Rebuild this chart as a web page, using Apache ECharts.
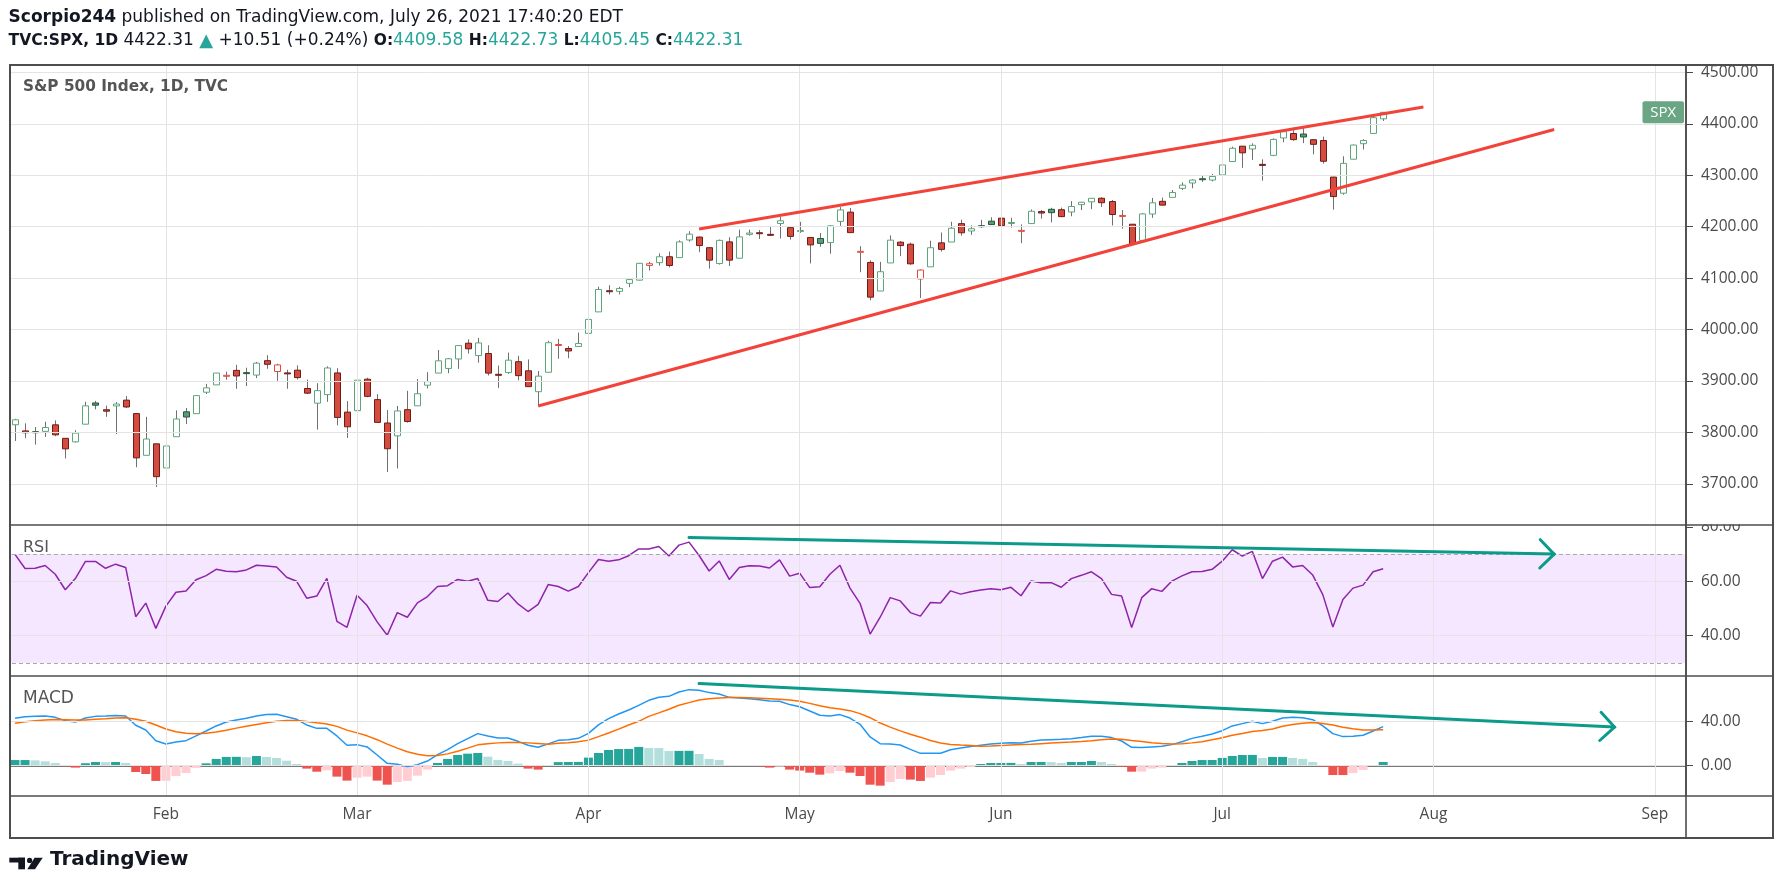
<!DOCTYPE html>
<html><head><meta charset="utf-8">
<script src="https://cdn.jsdelivr.net/npm/echarts@6/dist/echarts.min.js"></script>
<style>html,body{margin:0;padding:0;background:#fff;}#c{width:1783px;height:894px;}</style>
</head><body><div id="c"></div>
<script>
// ---------- DATA ----------
const dates = [
'01-08','01-11','01-12','01-13','01-14','01-15','01-19','01-20','01-21','01-22','01-25','01-26','01-27','01-28','01-29',
'02-01','02-02','02-03','02-04','02-05','02-08','02-09','02-10','02-11','02-12','02-16','02-17','02-18','02-19','02-22','02-23','02-24','02-25','02-26',
'03-01','03-02','03-03','03-04','03-05','03-08','03-09','03-10','03-11','03-12','03-15','03-16','03-17','03-18','03-19','03-22','03-23','03-24','03-25','03-26','03-29','03-30','03-31',
'04-01','04-05','04-06','04-07','04-08','04-09','04-12','04-13','04-14','04-15','04-16','04-19','04-20','04-21','04-22','04-23','04-26','04-27','04-28','04-29','04-30',
'05-03','05-04','05-05','05-06','05-07','05-10','05-11','05-12','05-13','05-14','05-17','05-18','05-19','05-20','05-21','05-24','05-25','05-26','05-27','05-28',
'06-01','06-02','06-03','06-04','06-07','06-08','06-09','06-10','06-11','06-14','06-15','06-16','06-17','06-18','06-21','06-22','06-23','06-24','06-25','06-28','06-29','06-30',
'07-01','07-02','07-06','07-07','07-08','07-09','07-12','07-13','07-14','07-15','07-16','07-19','07-20','07-21','07-22','07-23','07-26','07-27','07-28','07-29','07-30',
'08-02','08-03','08-04','08-05','08-06','08-09','08-10','08-11','08-12','08-13','08-16','08-17','08-18','08-19','08-20','08-23','08-24','08-25','08-26','08-27','08-30','08-31',
'09-01','09-02','09-03'];
const padBefore = ['01-07'];
const padAfter = ['09-07'];

const open = [
3815.05,3803.14,3801.62,3802.23,3814.98,3788.73,3781.88,3816.22,3857.46,3844.24,3851.68,3862.96,3836.83,3755.75,3778.05,
3731.17,3791.84,3840.27,3836.66,3878.30,3892.59,3910.49,3920.78,3916.40,3911.65,3939.61,3918.50,3915.86,3921.16,3885.55,3857.07,3873.71,3915.80,3839.66,
3842.51,3903.64,3863.99,3818.53,3793.58,3844.39,3851.93,3891.99,3915.54,3924.52,3942.96,3973.59,3949.57,3953.50,3913.14,3916.48,3937.60,3919.93,3879.34,3917.12,3969.31,3963.34,3967.25,
3992.78,4034.44,4075.57,4074.29,4089.95,4096.11,4124.71,4130.10,4141.58,4139.76,4174.14,4179.80,4159.18,4128.42,4170.46,4138.78,4185.03,4188.25,4185.14,4206.14,4198.10,
4191.98,4179.04,4177.06,4169.14,4210.34,4228.29,4150.34,4130.55,4074.99,4129.58,4169.92,4165.94,4098.45,4121.97,4168.61,4170.16,4205.94,4191.59,4201.94,4210.77,
4216.52,4206.82,4191.43,4206.05,4229.34,4233.81,4232.99,4228.56,4242.90,4248.31,4255.28,4248.87,4220.37,4204.78,4173.40,4224.61,4249.27,4256.97,4274.45,4284.90,4293.21,4290.65,
4300.73,4326.60,4356.46,4351.01,4321.07,4338.60,4372.41,4381.07,4380.11,4369.02,4367.43,4296.40,4265.11,4331.13,4361.27,4381.20,4409.58];

const high = [
3826.69,3817.86,3810.78,3820.96,3823.60,3788.73,3804.53,3859.75,3861.45,3852.31,3859.23,3870.90,3836.83,3830.50,3778.05,
3784.32,3843.09,3847.51,3872.42,3894.56,3915.77,3918.35,3931.50,3925.99,3937.23,3950.43,3933.61,3921.98,3930.41,3902.92,3895.98,3928.65,3925.02,3861.08,
3914.50,3906.41,3874.47,3843.67,3851.69,3881.06,3903.76,3917.35,3960.27,3944.99,3970.08,3981.04,3983.87,3969.62,3930.12,3955.31,3949.13,3942.08,3919.54,3978.19,3981.83,3968.01,3994.41,
4020.63,4083.42,4086.23,4083.13,4098.19,4129.48,4131.76,4148.00,4151.69,4173.49,4191.31,4180.81,4159.18,4175.02,4179.57,4194.17,4194.19,4193.35,4201.53,4218.78,4198.10,
4209.39,4179.04,4187.72,4202.70,4238.04,4236.39,4162.04,4134.73,4131.58,4183.13,4171.92,4169.15,4116.93,4172.80,4188.72,4209.52,4213.42,4202.61,4213.38,4218.36,
4234.12,4217.37,4204.39,4233.45,4232.34,4236.74,4237.09,4249.74,4248.38,4255.59,4257.16,4251.89,4232.29,4204.78,4226.24,4255.84,4256.60,4271.28,4286.12,4292.14,4300.52,4302.43,
4320.66,4355.43,4356.46,4361.88,4330.88,4371.60,4386.68,4392.37,4393.68,4369.02,4375.09,4296.40,4336.84,4359.70,4369.87,4415.18,4422.73];

const low = [
3783.60,3789.02,3776.51,3791.50,3792.86,3749.62,3780.37,3816.22,3845.05,3830.41,3797.16,3847.78,3732.48,3755.75,3694.12,
3725.62,3791.84,3816.68,3836.66,3874.93,3892.59,3902.64,3884.94,3890.39,3905.78,3923.85,3900.43,3885.03,3903.07,3874.71,3805.59,3859.60,3814.04,3789.54,
3842.51,3868.57,3818.86,3723.34,3730.19,3819.25,3851.93,3885.73,3915.54,3915.21,3923.54,3953.44,3935.74,3910.86,3886.75,3914.16,3901.57,3889.07,3853.50,3917.12,3943.25,3944.35,3966.98,
3992.78,4034.44,4068.14,4068.31,4082.54,4095.51,4114.82,4124.43,4120.87,4139.76,4170.75,4150.47,4118.38,4126.35,4123.69,4138.78,4182.36,4176.22,4181.78,4176.81,4174.85,
4188.03,4128.59,4160.94,4147.33,4201.64,4188.13,4111.53,4056.88,4074.99,4129.58,4142.69,4125.99,4061.41,4121.97,4151.72,4170.16,4182.52,4184.11,4197.78,4203.57,
4197.59,4198.27,4167.93,4206.05,4215.66,4208.41,4218.74,4220.34,4232.25,4234.07,4238.35,4202.45,4196.05,4164.40,4173.40,4217.27,4241.43,4256.97,4271.16,4274.67,4287.04,4287.96,
4300.73,4326.60,4314.37,4329.79,4289.37,4337.00,4364.03,4366.92,4362.36,4340.70,4322.53,4233.13,4262.05,4331.13,4350.06,4381.20,4405.45];

const close = [
3824.68,3799.61,3801.19,3809.84,3795.54,3768.25,3798.91,3851.85,3853.07,3841.47,3855.36,3849.62,3750.77,3787.38,3714.24,
3773.86,3826.31,3830.17,3871.74,3886.83,3915.59,3911.23,3909.88,3916.38,3934.83,3932.59,3931.33,3913.97,3906.71,3876.50,3881.37,3925.43,3829.34,3811.15,
3901.82,3870.29,3819.72,3768.47,3841.94,3821.35,3875.44,3898.81,3939.34,3943.34,3968.94,3962.71,3974.12,3915.46,3913.10,3940.59,3910.52,3889.14,3909.52,3974.54,3971.09,3958.55,3972.89,
4019.87,4077.91,4073.94,4079.95,4097.17,4128.80,4127.99,4141.59,4124.66,4170.42,4185.47,4163.26,4134.94,4173.42,4134.98,4180.17,4187.62,4186.72,4183.18,4211.47,4181.17,
4192.66,4164.66,4167.59,4201.62,4232.60,4188.43,4152.10,4063.04,4112.50,4173.85,4163.29,4127.83,4115.68,4159.12,4155.86,4197.05,4188.13,4195.99,4200.88,4204.11,
4202.04,4208.12,4192.85,4229.89,4226.52,4227.26,4219.55,4239.18,4247.44,4255.15,4246.59,4223.70,4221.86,4166.45,4224.79,4246.44,4241.84,4266.49,4280.70,4290.61,4291.80,4297.50,
4319.94,4352.34,4343.54,4358.13,4320.82,4369.55,4384.63,4369.21,4374.30,4360.03,4327.16,4258.49,4323.06,4358.69,4367.48,4411.79,4422.31];

const rsi = [
69.9,64.7,64.8,65.8,62.6,56.9,61.0,67.3,67.3,64.8,
66.3,65.1,47.0,52.0,42.7,50.9,56.0,56.4,60.6,62.1,
64.4,63.7,63.5,64.2,65.9,65.6,65.3,61.5,60.0,53.8,
54.6,61.1,45.3,43.1,54.9,51.1,45.1,40.2,48.5,46.8,
52.1,54.4,58.1,58.4,60.7,60.0,61.0,53.0,52.6,55.7,
51.7,48.9,51.5,58.8,58.1,56.4,58.1,63.2,68.0,67.4,
67.9,69.4,71.9,71.9,72.8,69.3,73.3,74.4,69.5,63.8,
67.5,60.7,65.1,65.7,65.6,64.9,67.9,61.9,63.0,57.7,
58.0,62.6,65.9,57.5,51.9,40.6,46.8,54.0,52.8,48.5,
47.2,52.2,52.0,56.5,55.3,56.2,56.8,57.3,56.9,57.8,
54.7,60.1,59.5,59.5,57.8,61.0,62.2,63.5,61.0,55.2,
54.6,43.0,54.0,57.3,56.3,60.1,62.0,63.5,63.6,64.4,
67.4,71.6,69.3,71.0,61.0,67.4,68.9,65.3,65.8,62.3,
55.1,43.2,53.3,57.5,58.6,63.5,64.6];

const macd = [
42.7,44.2,44.5,44.8,43.6,40.6,39.4,43.0,44.5,44.8,
45.2,44.8,36.4,32.1,22.4,19.4,21.2,22.4,26.7,31.2,
35.8,39.4,41.2,42.7,44.8,46.1,46.4,44.2,41.8,36.7,
33.6,33.6,26.7,18.2,18.8,16.7,9.4,1.8,0.9,-1.2,
0.6,3.9,9.7,14.2,19.7,24.2,28.8,26.7,24.8,24.8,
21.8,18.2,16.4,19.5,22.7,23.3,24.5,29.1,36.7,42.4,
46.7,50.3,54.5,59.1,61.8,62.7,66.7,68.8,68.3,66.1,
64.8,61.8,61.2,60.6,59.7,58.5,58.2,55.2,53.3,49.4,
45.5,44.8,46.1,43.0,37.3,25.8,19.7,19.4,18.5,14.5,
10.9,10.9,10.9,14.2,15.8,17.0,18.2,19.4,20.0,20.6,
20.3,21.8,23.0,23.3,23.6,24.2,25.2,26.4,26.4,25.2,
22.1,16.4,16.1,16.7,17.3,18.8,21.5,24.5,26.4,28.5,
31.5,35.8,37.9,40.0,37.9,40.0,43.0,43.6,43.3,41.5,
35.8,28.8,26.1,26.4,27.3,31.2,35.2];

const signal = [
38.2,39.5,40.5,41.3,41.6,41.5,41.3,41.3,41.9,42.4,
43.0,43.3,41.8,40.0,36.7,33.0,30.6,29.1,28.8,29.1,
30.2,31.9,33.8,35.5,37.1,38.7,40.0,40.7,40.7,39.8,
38.6,37.5,35.4,32.0,29.5,26.8,23.3,19.3,15.6,12.4,
10.0,8.8,8.9,10.4,12.8,15.6,18.6,19.7,20.4,20.8,
20.8,20.4,19.9,19.2,20.0,20.6,21.5,22.9,26.1,29.4,
32.9,36.7,40.0,44.5,47.7,51.0,54.6,57.0,59.4,60.6,
61.2,61.6,61.6,61.4,61.0,60.6,60.1,59.3,58.3,56.3,
54.1,52.3,51.2,49.7,47.0,43.3,38.5,34.7,31.3,28.2,
25.6,22.5,20.3,19.0,18.5,18.1,17.3,17.5,17.9,18.4,
18.9,19.1,19.7,20.2,20.7,21.1,21.6,22.4,23.3,23.9,
23.7,22.5,21.6,20.5,19.8,19.4,19.5,20.4,21.5,23.2,
25.0,27.3,28.9,30.8,31.7,33.0,35.5,37.1,38.2,39.0,
38.0,36.6,34.7,33.3,32.2,32.1,32.3];

const hist = [
4.8,4.8,4.5,3.6,2.1,-0.9,-2.1,1.9,3.0,2.9,
3.0,2.1,-6.1,-7.9,-14.2,-14.1,-9.7,-7.0,-2.4,1.8,
5.8,7.6,7.7,7.4,8.5,7.6,6.7,4.2,1.2,-3.0,
-5.8,-4.5,-10.3,-13.9,-11.2,-10.3,-13.9,-17.6,-15.2,-14.2,
-9.4,-3.9,2.1,5.8,9.4,10.6,11.2,7.9,4.8,3.9,
1.5,-3.0,-3.9,0.3,2.9,3.0,3.1,7.0,11.2,13.9,
14.8,14.9,16.7,15.8,15.7,13.0,13.1,13.2,10.3,5.8,
4.8,-0.3,-0.4,-0.5,-0.9,-2.1,-1.2,-3.9,-4.8,-6.7,
-8.5,-7.3,-5.2,-6.7,-9.7,-17.6,-18.5,-15.2,-12.4,-13.0,
-14.2,-11.2,-8.8,-4.8,-3.0,-1.5,1.2,2.1,2.15,2.2,
1.2,3.0,3.05,2.9,2.1,3.0,3.05,3.9,3.0,1.2,
-1.2,-5.8,-5.7,-3.0,-2.1,-0.6,2.1,3.9,4.8,4.85,
6.7,8.5,9.4,9.45,6.7,7.6,7.65,6.7,5.8,3.0,
-1.2,-8.8,-8.85,-7.0,-4.2,-0.6,3.0];

const priceGrid = [3700,3800,3900,4000,4100,4200,4300,4400,4500];
const rsiGrid = [40,60];
const rsiBands = [30,70];
const macdGrid = [0,40];
const upperTrend = [['04-19',4195.5],['07-30',4432.7]];
const lowerTrend = [['03-25',3851.5],['08-18',4388.8]];
const rsiArrow = ['04-16',76.1,'08-18',70.0];
const macdArrow = ['04-19',74.4,'08-26',34.8];
const MONTH = {'01':'Jan','02':'Feb','03':'Mar','04':'Apr','05':'May','06':'Jun','07':'Jul','08':'Aug','09':'Sep'};

// ---------- CHART ----------
const FONT = 'Open Sans';
const UIFONT = 'DejaVu Sans';
const DARK = '#4d4d4d';
const axisDays = padBefore.concat(dates, padAfter);
const STEP = 10.06;
const GL = 15.0 - STEP, GW = STEP * (axisDays.length - 1), AXIS_X = 1686;
const OFFSET = AXIS_X - (GL + GW);
const isMonthStart = i => i > 0 && axisDays[i].slice(0,2) !== axisDays[i-1].slice(0,2);
const monthIdx = axisDays.map((d,i)=>i).filter(isMonthStart);
const GRIDC = '#e4e4e4';

const chart = echarts.init(document.getElementById('c'), null, {renderer:'canvas', width:1783, height:894});

function yAxis(k, min, max, iv, extra){
  return Object.assign({
    type:'value', gridIndex:k, position:'right', offset:OFFSET, min:min, max:max,
    minInterval:iv, maxInterval:iv, splitNumber:5,
    axisLine:{show:true, lineStyle:{color:DARK, width:1.6}},
    axisTick:{show:true, length:7, lineStyle:{color:'#4a4a4a', width:1}},
    axisLabel:{margin:15, color:'#4a4a4a', fontSize:15.5, fontFamily:FONT, showMinLabel:false, showMaxLabel:false,
      formatter: v => v.toFixed(2)},
    splitLine:{show:false}
  }, extra||{});
}
function xAxis(k, show){
  return {
    type:'category', gridIndex:k, data:axisDays, boundaryGap:false,
    axisLine:{show:show, lineStyle:{color:DARK, width:1.6}},
    axisTick:{show:show, interval:(i)=>isMonthStart(i), length:7, lineStyle:{color:'#4a4a4a'}},
    axisLabel:{show:show, interval:(i)=>isMonthStart(i), formatter:(v)=>MONTH[v.slice(0,2)],
      color:'#4a4a4a', fontSize:15.5, fontFamily:FONT, margin:11},
    splitLine:{show:false}
  };
}
function helper(k, yVals, extraLines, area){
  const s = {
    type:'line', xAxisIndex:k, yAxisIndex:k, data:[], silent:true, z:0, animation:false,
    markLine:{silent:true, symbol:['none','none'], animation:false, label:{show:false},
      lineStyle:{color:GRIDC, width:1, type:'solid'},
      data: monthIdx.map(i=>({xAxis:i})).concat(yVals.map(v=>({yAxis:v}))).concat(extraLines||[])}
  };
  if (area) s.markArea = area;
  return s;
}

const candleData = close.map((c,i)=>[dates[i], open[i], c, low[i], high[i], i>0 ? close[i-1] : open[i]]);
const pairs = arr => arr.map((v,i)=>[dates[i], v]);

function renderCandle(params, api){
  const x = api.value(0);
  const o = api.value(1), c = api.value(2), l = api.value(3), h = api.value(4), pc = api.value(5);
  const pO = api.coord([x,o]), pC = api.coord([x,c]), pL = api.coord([x,l]), pH = api.coord([x,h]);
  const cx = Math.round(pO[0]) + 0.5;
  const up = c >= pc, hollow = c > o;
  let fill, stroke;
  if (up && hollow){ fill='#ffffff'; stroke='#5ea57c'; }
  else if (up){ fill='#5a9c78'; stroke='#24593b'; }
  else if (hollow){ fill='#ffffff'; stroke='#e5473a'; }
  else { fill='#d44c3f'; stroke='#6e1c17'; }
  const top = Math.min(pO[1], pC[1]);
  const hgt = Math.max(Math.abs(pO[1]-pC[1]), 1);
  return {type:'group', children:[
    {type:'line', shape:{x1:cx, y1:pH[1], x2:cx, y2:pL[1]}, style:{stroke:'#707070', lineWidth:1}},
    {type:'rect', shape:{x:cx-3, y:top, width:6, height:hgt}, style:{fill:fill, stroke:stroke, lineWidth:1}}
  ]};
}
function renderArrow(params, api){
  const p0 = api.coord([api.value(0), api.value(1)]);
  const p1 = api.coord([api.value(2), api.value(3)]);
  const ang = Math.atan2(p1[1]-p0[1], p1[0]-p0[0]);
  const L = 20, a = Math.PI/4;
  const a1 = [p1[0]-L*Math.cos(ang-a), p1[1]-L*Math.sin(ang-a)];
  const a2 = [p1[0]-L*Math.cos(ang+a), p1[1]-L*Math.sin(ang+a)];
  const col = '#0c9a8a';
  return {type:'group', children:[
    {type:'line', shape:{x1:p0[0], y1:p0[1], x2:p1[0], y2:p1[1]}, style:{stroke:col, lineWidth:3, lineCap:'round'}},
    {type:'polyline', shape:{points:[a1,p1,a2]}, style:{stroke:col, lineWidth:3, fill:null, lineCap:'round', lineJoin:'miter'}}
  ]};
}

const histColors = hist.map((h,i)=>{
  const p = i>0 ? hist[i-1] : -Infinity;
  if (h >= 0) return h >= p ? '#26a69a' : '#b2dfdb';
  return h < p ? '#ef5350' : '#ffcdd2';
});

const option = {
  animation:false,
  backgroundColor:'#ffffff',
  grid:[
    {left:GL, width:GW, top:65, height:460, outerBoundsMode:'none'},
    {left:GL, width:GW, top:525, height:151, outerBoundsMode:'none'},
    {left:GL, width:GW, top:676, height:120, outerBoundsMode:'none'}
  ],
  xAxis:[xAxis(0,false), xAxis(1,false), xAxis(2,true)],
  yAxis:[
    yAxis(0, 3620.3, 4514.2, 100),
    yAxis(1, 25.2, 80.7, 20),
    yAxis(2, -27.9, 81.2, 40, {
      axisTick:{show:true, length:7, lineStyle:{color:'#4a4a4a'}, customValues:macdGrid},
      axisLabel:{margin:15, color:'#4a4a4a', fontSize:15.5, fontFamily:FONT,
        customValues:macdGrid, formatter: v => (v === 80 ? '' : v.toFixed(2))}
    })
  ],
  series:[
    helper(0, priceGrid),
    helper(1, rsiGrid,
      rsiBands.map(v=>({yAxis:v, lineStyle:{color:'#a9a9a9', width:1, type:[4,3]}})),
      {silent:true, itemStyle:{color:'rgba(153,21,255,0.10)'}, data:[[{yAxis:rsiBands[0]},{yAxis:rsiBands[1]}]]}),
    helper(2, macdGrid),
    {type:'custom', name:'SPX', xAxisIndex:0, yAxisIndex:0, data:candleData, renderItem:renderCandle,
      encode:{x:0, y:[1,2,3,4]}, z:3, silent:true},
    {type:'line', xAxisIndex:0, yAxisIndex:0, data:upperTrend, symbol:'none', z:5, silent:true,
      lineStyle:{color:'#f2433a', width:3}},
    {type:'line', xAxisIndex:0, yAxisIndex:0, data:lowerTrend, symbol:'none', z:5, silent:true,
      lineStyle:{color:'#f2433a', width:3}},
    {type:'line', xAxisIndex:1, yAxisIndex:1, data:pairs(rsi), symbol:'none', z:4, silent:true,
      lineStyle:{color:'#8e24aa', width:1.5}},
    {type:'custom', xAxisIndex:1, yAxisIndex:1,
      data:[[axisDays.indexOf(rsiArrow[0]), rsiArrow[1], axisDays.indexOf(rsiArrow[2]), rsiArrow[3]]],
      renderItem:renderArrow, encode:{x:[0,2], y:[1,3]}, z:6, silent:true},
    {type:'bar', xAxisIndex:2, yAxisIndex:2, barWidth:9, z:3, silent:true,
      data: hist.map((h,i)=>({value:[dates[i], h], itemStyle:{color:histColors[i]}}))},
    {type:'line', xAxisIndex:2, yAxisIndex:2, data:pairs(macd), symbol:'none', z:4, silent:true,
      lineStyle:{color:'#2196f3', width:1.5}},
    {type:'line', xAxisIndex:2, yAxisIndex:2, data:pairs(signal), symbol:'none', z:4, silent:true,
      lineStyle:{color:'#ff6d00', width:1.5}},
    {type:'custom', xAxisIndex:2, yAxisIndex:2,
      data:[[axisDays.indexOf(macdArrow[0]), macdArrow[1], axisDays.indexOf(macdArrow[2]), macdArrow[3]]],
      renderItem:renderArrow, encode:{x:[0,2], y:[1,3]}, z:6, silent:true}
  ]
};
chart.setOption(option);

// ---------- DECORATION ----------
const lastClose = close[close.length-1];
const spxY = chart.convertToPixel({yAxisIndex:0}, lastClose);
const g = [];
g.push({type:'text', left:8.6, top:9, z:20, style:{
  text:'{b|Scorpio244} published on TradingView.com, July 26, 2021 17:40:20 EDT',
  fontSize:17, fontFamily:UIFONT, fill:'#131722',
  rich:{b:{fontWeight:'bold', fontSize:17, fontFamily:UIFONT, fill:'#131722'}}}});
g.push({type:'text', left:8.6, top:32, z:20, style:{
  text:'{b|TVC:SPX, 1D} 4422.31 {t|▲} +10.51 (+0.24%) {b|O:}{g|4409.58} {b|H:}{g|4422.73} {b|L:}{g|4405.45} {b|C:}{g|4422.31}',
  fontSize:17, fontFamily:UIFONT, fill:'#131722',
  rich:{b:{fontWeight:'bold', fontSize:15.5, fontFamily:UIFONT, fill:'#131722'},
        t:{fontSize:18, fontFamily:UIFONT, fill:'#26a69a'},
        g:{fontSize:17, fontFamily:UIFONT, fill:'#26a69a'}}}});
// clip the left overhang and the top of the RSI 80 label
g.push({type:'rect', z:18, shape:{x:0, y:60, width:9.5, height:790}, style:{fill:'#ffffff'}});
g.push({type:'rect', z:18, shape:{x:1687, y:500, width:85, height:24.5}, style:{fill:'#ffffff'}});
// border + separators
g.push({type:'rect', z:19, shape:{x:10, y:65, width:1763, height:773}, style:{fill:null, stroke:DARK, lineWidth:2}});
[525, 676, 796].forEach(y=>g.push({type:'line', z:19, shape:{x1:10, y1:y, x2:1773, y2:y}, style:{stroke:DARK, lineWidth:1.6}}));
g.push({type:'line', z:19, shape:{x1:AXIS_X, y1:65, x2:AXIS_X, y2:838}, style:{stroke:DARK, lineWidth:1.6}});
// pane legends
g.push({type:'text', left:23, top:80, z:20, style:{text:'S&P 500 Index, 1D, TVC', fontSize:15.3, fontWeight:'bold', fontFamily:UIFONT, fill:'#555555'}});
g.push({type:'text', left:23, top:540, z:20, style:{text:'RSI', fontSize:16, fontFamily:UIFONT, fill:'#555555'}});
g.push({type:'text', left:23, top:690, z:20, style:{text:'MACD', fontSize:17, fontFamily:UIFONT, fill:'#555555'}});
// SPX price tag
g.push({type:'rect', z:20, shape:{x:1642.5, y:spxY-11, width:41.5, height:22, r:2}, style:{fill:'#6aa584'}});
g.push({type:'text', z:21, x:1663.2, y:spxY, style:{text:'SPX', fontSize:15, fontFamily:FONT, fill:'#ffffff', align:'center', verticalAlign:'middle'}});
// logo
const LC = '#131722';
g.push({type:'rect', z:20, shape:{x:9.3, y:857.7, width:15.7, height:4.8}, style:{fill:LC}});
g.push({type:'rect', z:20, shape:{x:18.3, y:857.7, width:6.7, height:11.6}, style:{fill:LC}});
g.push({type:'circle', z:20, shape:{cx:29.6, cy:860.4, r:2.6}, style:{fill:LC}});
g.push({type:'polygon', z:20, shape:{points:[[34.6,857.7],[42.7,857.7],[35.0,869.3],[27.3,869.3]]}, style:{fill:LC}});
g.push({type:'text', left:50, top:850, z:20, style:{text:'TradingView', fontSize:20, fontWeight:'bold', fontFamily:UIFONT, fill:LC}});
chart.setOption({graphic:g});
</script></body></html>
